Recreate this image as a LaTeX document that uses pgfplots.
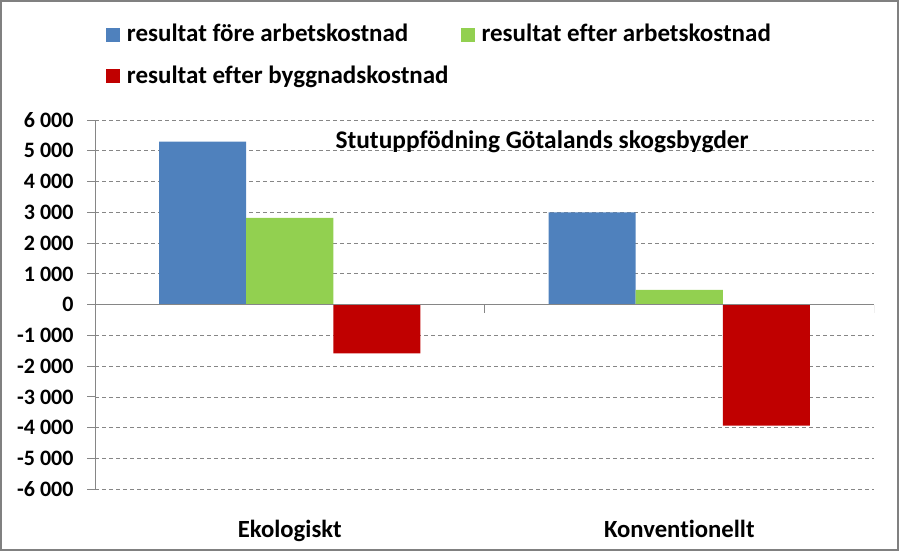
\documentclass[border=0pt]{standalone}
\usepackage{fontspec}
\setmainfont{Carlito}[Ligatures=NoCommon]
\usepackage{pgfplots}
\pgfplotsset{compat=1.18}
\definecolor{cblue}{HTML}{4F81BD}
\definecolor{cgreen}{HTML}{92D050}
\definecolor{cred}{HTML}{C00000}
\definecolor{axgray}{HTML}{868686}
\definecolor{bordergray}{HTML}{808080}
\begin{document}
\begin{tikzpicture}
\begin{axis}[
  at={(95bp,-489.3bp)}, anchor=south west,
  scale only axis, width=779bp, height=369.3bp,
  xmin=-0.5, xmax=1.5, ymin=-6000, ymax=6000,
  ybar=0pt, bar width=0.2234,
  axis y line*=left, axis x line*=bottom,
  x axis line style={draw=none},
  y axis line style={axgray, line width=1bp},
  xtick={0,1}, xticklabels={Ekologiskt,Konventionellt},
  x tick style={draw=none},
  xticklabel style={anchor=base, yshift=-39.7bp, font=\fontsize{24.7bp}{28bp}\selectfont\bfseries},
  ytick={-6000,-5000,...,6000},
  yticklabels={-6 000,-5 000,-4 000,-3 000,-2 000,-1 000,0,1 000,2 000,3 000,4 000,5 000,6 000},
  ytick pos=left, tick align=outside, major tick length=8bp,
  y tick style={axgray, line width=1bp},
  yticklabel style={anchor=east, inner sep=0pt, xshift=-13.3bp, font=\fontsize{22bp}{26bp}\selectfont\bfseries},
  ymajorgrids,
  major grid style={axgray, line width=0.8bp, dash pattern=on 4bp off 3bp},
  legend columns=2,
  legend style={draw=none, fill=none, at={(0.01412,1.2607)}, anchor=north west,
    inner sep=0pt, outer sep=0pt, font=\fontsize{25bp}{28bp}\selectfont\bfseries,
    row sep=17.6bp, column sep=7bp,
    /tikz/every even column/.append style={column sep=12bp},
    nodes={inner sep=0pt, anchor=base west, text height=18bp, text depth=6bp}},
  every axis plot post/.append style={legend image code/.code={\fill[##1,draw=none] (0bp,0bp) rectangle (14bp,14bp);}},
]
\addplot[fill=cblue, draw=none] coordinates {(0,5300) (1,3000)};
\addplot[fill=cgreen, draw=none] coordinates {(0,2820) (1,480)};
\addplot[fill=cred, draw=none] coordinates {(0,-1580) (1,-3930)};
\legend{resultat före arbetskostnad, resultat efter arbetskostnad, resultat efter byggnadskostnad}
\draw[axgray, line width=1bp] (axis cs:-0.5,0) -- (axis cs:1.5,0);
\draw[axgray, line width=1bp] (axis cs:0.5,0) -- ([yshift=-8bp]axis cs:0.5,0);
\draw[axgray, line width=1bp] (axis cs:1.5,0) -- ([yshift=-8bp]axis cs:1.5,0);
\end{axis}
\node[anchor=base, font=\fontsize{25.4bp}{28bp}\selectfont\bfseries] at (542bp,-148.3bp) {Stutuppfödning Götalands skogsbygder};
\draw[bordergray, line width=2.4bp] (1.2bp,-1.2bp) rectangle (897.8bp,-549.8bp);
\pgfresetboundingbox
\useasboundingbox (0,0) rectangle (899bp,-551bp);
\end{tikzpicture}
\end{document}
